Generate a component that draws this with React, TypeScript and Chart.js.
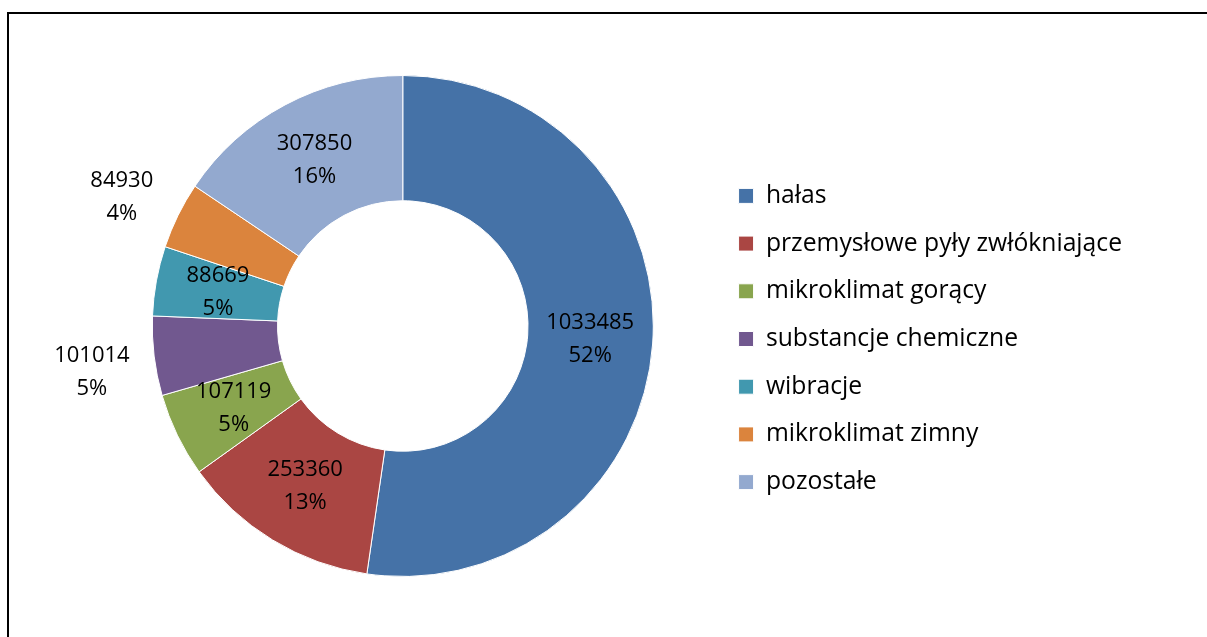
import React, { useEffect, useRef } from "react";
import { Chart, registerables } from "chart.js";

Chart.register(...registerables);

const categories = [
  "hałas",
  "przemysłowe pyły zwłókniające",
  "mikroklimat gorący",
  "substancje chemiczne",
  "wibracje",
  "mikroklimat zimny",
  "pozostałe",
];
const values = [1033485, 253360, 107119, 101014, 88669, 84930, 307850];
const percentLabels = ["52%", "13%", "5%", "5%", "5%", "4%", "16%"];
const outsideLabels = [false, false, false, true, false, true, false];
const colors = ["#4572A7", "#AA4643", "#89A54E", "#71588F", "#4198AF", "#DB843D", "#93A9CF"];

const FONT = '"Open Sans", "DejaVu Sans", sans-serif';

const labelPlugin = {
  id: "sliceLabels",
  afterDatasetsDraw(chart: any) {
    const ctx = chart.ctx;
    const meta = chart.getDatasetMeta(0);
    ctx.save();
    ctx.font = `22px ${FONT}`;
    ctx.fillStyle = "#000";
    ctx.textAlign = "center";
    ctx.textBaseline = "middle";
    meta.data.forEach((arc: any, i: number) => {
      let x: number, y: number;
      if (outsideLabels[i]) {
        const mid = (arc.startAngle + arc.endAngle) / 2;
        const r = arc.outerRadius * 1.25;
        x = arc.x + Math.cos(mid) * r;
        y = arc.y + Math.sin(mid) * r + 9;
      } else {
        const p = arc.tooltipPosition();
        x = p.x;
        y = p.y;
      }
      ctx.fillText(String(values[i]), x, y - 16.5);
      ctx.fillText(percentLabels[i], x, y + 16.5);
    });
    ctx.restore();
  },
};

export default function App() {
  const canvasRef = useRef<HTMLCanvasElement>(null);

  useEffect(() => {
    document.body.style.margin = "0";
    const chart = new Chart(canvasRef.current!, {
      type: "doughnut",
      data: {
        labels: categories,
        datasets: [
          {
            data: values,
            backgroundColor: colors,
            borderColor: "#ffffff",
            borderWidth: 1,
          },
        ],
      },
      options: {
        animation: false,
        responsive: false,
        cutout: "50%",
        layout: { padding: { left: 90, top: 75, bottom: 60, right: 75 } },
        plugins: {
          tooltip: { enabled: false },
          legend: {
            position: "right",
            title: {
              display: true,
              text: "",
              padding: 0,
              font: { family: FONT, size: 26, lineHeight: 1 },
            },
            labels: {
              boxWidth: 15,
              boxHeight: 15,
              padding: 23,
              color: "#000",
              font: { family: FONT, size: 24.7 },
            },
          },
        },
      },
      plugins: [labelPlugin],
    });
    return () => chart.destroy();
  }, []);

  return (
    <div
      style={{
        position: "fixed",
        left: 0,
        top: 0,
        width: 1207,
        height: 637,
        overflow: "hidden",
        background: "#fff",
      }}
    >
      <div
        style={{
          position: "absolute",
          left: 7,
          top: 12,
          width: 1300,
          height: 700,
          border: "2px solid #000",
          boxSizing: "border-box",
        }}
      />
      <canvas
        ref={canvasRef}
        width={1207}
        height={637}
        style={{ position: "absolute", left: 0, top: 0, width: 1207, height: 637 }}
      />
    </div>
  );
}
